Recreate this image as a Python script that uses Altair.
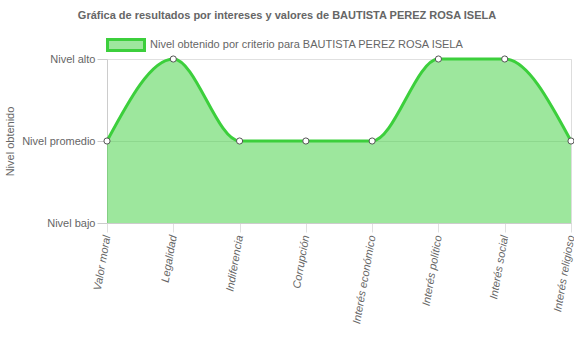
import altair as alt
import pandas as pd

categories = ["Valor moral", "Legalidad", "Indiferencia", "Corrupción",
              "Interés económico", "Interés político", "Interés social", "Interés religioso"]
values = [2, 3, 2, 2, 2, 3, 3, 2]
level_names = ["Nivel bajo", "Nivel promedio", "Nivel alto"]
level_values = [1, 2, 3]
series_name = "Nivel obtenido por criterio para BAUTISTA PEREZ ROSA ISELA"
title_text = "Gráfica de resultados por intereses y valores de BAUTISTA PEREZ ROSA ISELA"

df = pd.DataFrame({"cat": categories, "value": values, "serie": series_name})

label_expr = " : ".join(
    [f"datum.value == {v} ? '{n}'" for v, n in zip(level_values[::-1], level_names[::-1])]
) + " : ''"

FONT = "Liberation Sans"
GREY = "#666666"
LINE = "#3ccf3c"
FILL = "rgba(60,207,60,0.5)"
FS = 11

x_enc = alt.X(
    "cat:N", sort=categories,
    scale=alt.Scale(type="point", padding=0),
    axis=alt.Axis(
        title=None, labelAngle=280, labelAlign="right", labelBaseline="middle",
        labelFontStyle="italic", labelFontSize=FS, labelColor=GREY, labelFont=FONT,
        labelPadding=3, labelOverlap=False, tickSize=9, tickColor="#e0e0e0",
        gridColor="#e6e6e6", domainColor="#cccccc", labelBound=False,
    ),
)
y_enc = alt.Y(
    "value:Q", scale=alt.Scale(domain=[level_values[0], level_values[-1]]),
    axis=alt.Axis(
        values=level_values, labelExpr=label_expr, title="Nivel obtenido",
        titleFont=FONT, titleFontSize=FS, titleFontWeight="normal", titleColor=GREY,
        titleX=-97, titleY=82, titleAngle=270, titleAlign="center", titleBaseline="middle",
        labelFontSize=FS, labelColor=GREY, labelFont=FONT, labelPadding=2,
        tickSize=10, tickColor="#cccccc", gridColor="#e0e0e0", domainColor="#cccccc",
    ),
)

area = alt.Chart(df).mark_area(interpolate="monotone", opacity=1).encode(
    x=x_enc, y=y_enc, y2=alt.datum(level_values[0]),
    color=alt.Color(
        "serie:N", scale=alt.Scale(range=[FILL]),
        legend=alt.Legend(
            title=None, orient="none", legendX=-1, legendY=-34, padding=0,
            symbolType="M-1,-0.3L1,-0.3L1,0.3L-1,0.3Z", symbolSize=1369,
            symbolStrokeColor=LINE, symbolStrokeWidth=3, symbolOpacity=1,
            labelFont=FONT, labelFontSize=FS, labelColor=GREY, labelOffset=4,
            labelLimit=500,
        ),
    ),
)
line = alt.Chart(df).mark_line(interpolate="monotone", color=LINE, strokeWidth=3).encode(
    x=x_enc, y=y_enc
)
points = alt.Chart(df).mark_point(
    shape="circle", filled=True, fill="white", stroke="#555555", strokeWidth=1, size=38, opacity=1
).encode(x=x_enc, y=y_enc)

chart = alt.layer(area, line, points).properties(
    width=464, height=164,
    autosize=alt.AutoSizeParams(type="none"),
    padding={"left": 107, "top": 59, "right": 3, "bottom": 132},
    title=alt.TitleParams(
        title_text, font=FONT, fontSize=FS, fontWeight="bold", color=GREY,
        anchor="middle", dx=-52, dy=5, offset=0, baseline="alphabetic", frame="group",
    ),
).configure_view(stroke=None).configure(background="white")

chart.save("out.html", embed_options={"renderer": "svg", "actions": False})
